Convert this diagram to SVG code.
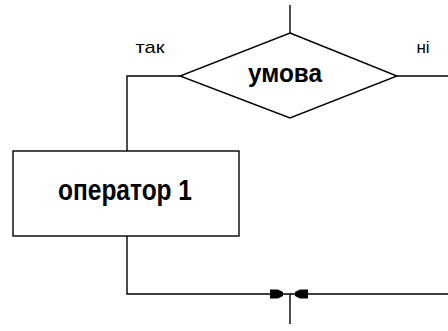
<svg xmlns="http://www.w3.org/2000/svg" width="448" height="331" viewBox="0 0 448 331">
  <style>
    .ln { fill: none; stroke: #000; stroke-width: 1.4; }
    .shape { fill: #fff; stroke: #000; stroke-width: 1.4; }
    .big { font-family: "Liberation Sans", Arial, sans-serif; font-weight: bold; font-size: 24px; fill: #000; text-anchor: middle; }
    .lbl { font-family: "Liberation Sans", Arial, sans-serif; font-size: 17px; fill: #000; text-anchor: middle; }
    .ah { fill: #000; stroke: none; }
  </style>
  <rect width="448" height="331" fill="#fff"/>
  <g id="connectors">
    <path class="ln" d="M290,5 V33"/>
    <path class="ln" d="M180,76 H127 V151"/>
    <path class="ln" d="M397,76 H448"/>
    <path class="ln" d="M127,236 V294 H448"/>
    <path class="ln" d="M290,294 V324"/>
    <path class="ah" d="M270,289.5 H278 L283,292 V296 L278,298.5 H270 Z"/>
    <path class="ah" d="M308,289.5 H300 L295,292 V296 L300,298.5 H308 Z"/>
    <text class="lbl" x="150" y="53" textLength="29" lengthAdjust="spacingAndGlyphs">так</text>
    <text class="lbl" x="423" y="53">ні</text>
  </g>
  <g id="condition">
    <polygon class="shape" points="290,33 397,76 290,118 180,76"/>
    <text class="big" x="285" y="0" transform="translate(0,82) scale(1,1.1)" textLength="74" lengthAdjust="spacingAndGlyphs">умова</text>
  </g>
  <g id="operator1">
    <rect class="shape" x="13" y="151" width="226" height="85"/>
    <text class="big" x="125" y="0" transform="translate(0,200) scale(1,1.2)" textLength="134" lengthAdjust="spacingAndGlyphs">оператор 1</text>
  </g>
</svg>
